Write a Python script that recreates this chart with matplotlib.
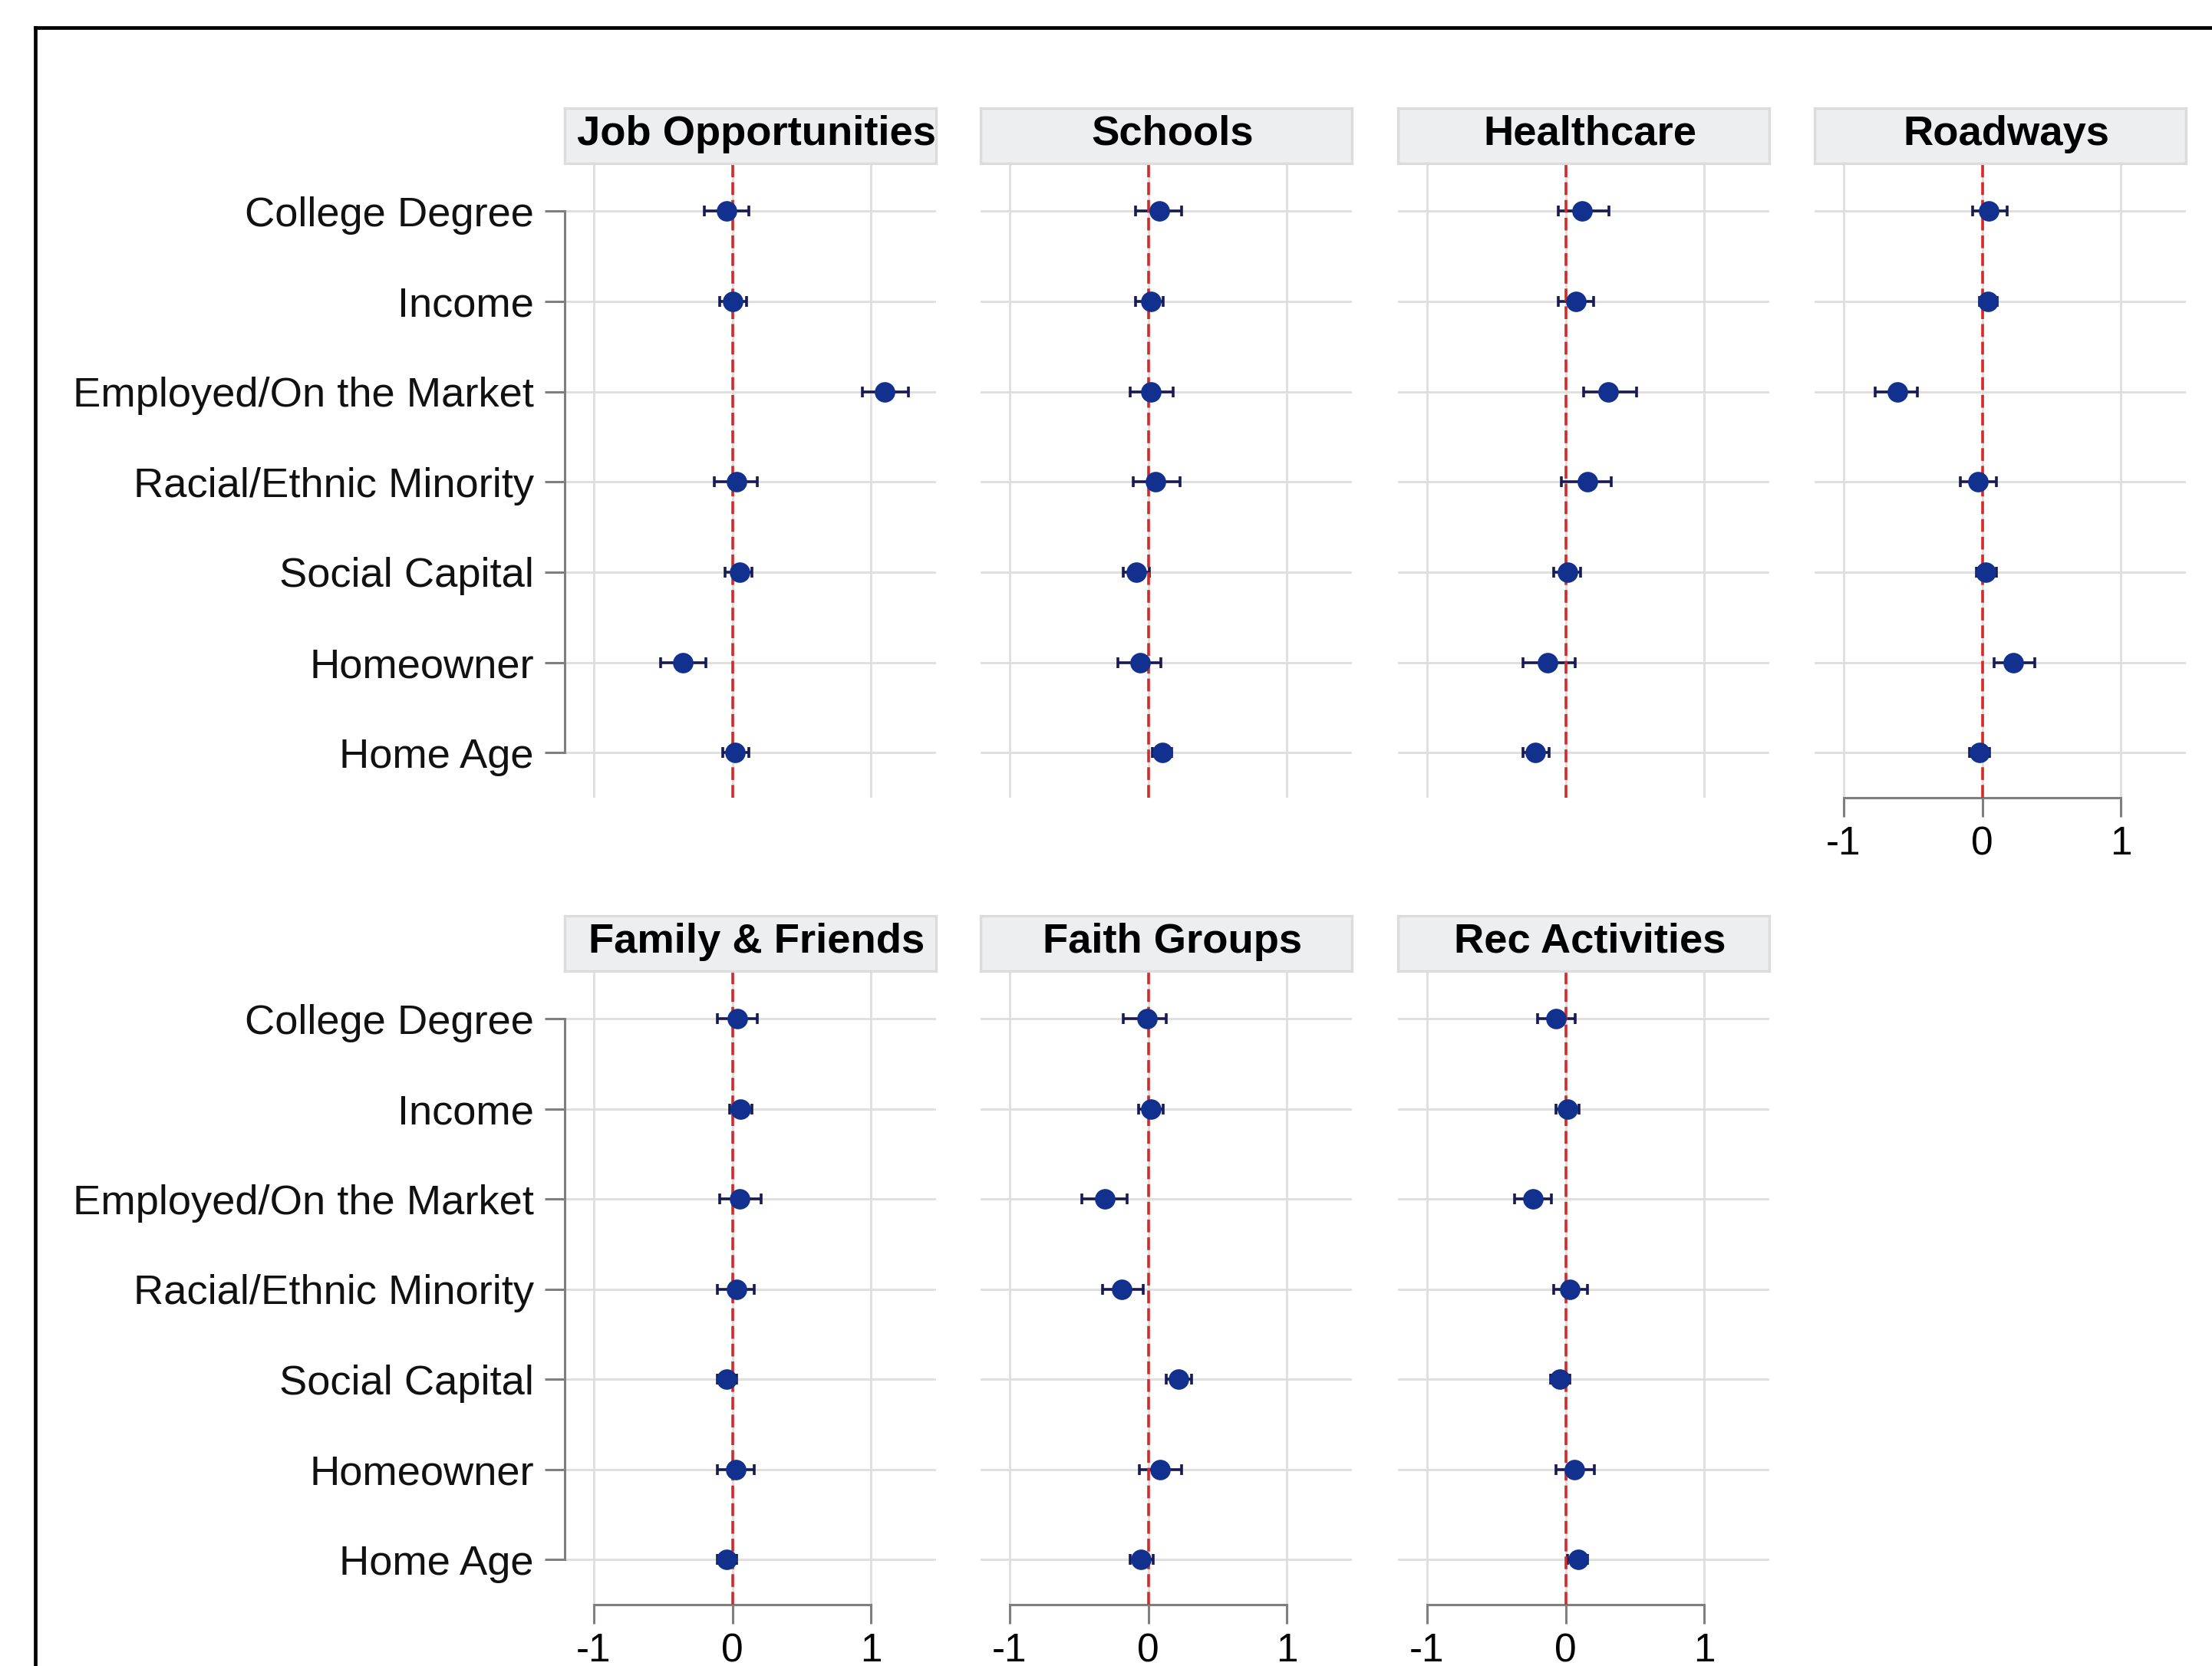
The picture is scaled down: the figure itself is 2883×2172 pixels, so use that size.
import numpy as np
import matplotlib
matplotlib.use("Agg")
import matplotlib.pyplot as plt
from matplotlib.lines import Line2D

plt.rcParams['font.family'] = ['Liberation Sans', 'DejaVu Sans']

# Predictors (top to bottom) and outcome panels
categories = ["College Degree", "Income", "Employed/On the Market",
              "Racial/Ethnic Minority", "Social Capital", "Homeowner", "Home Age"]
panels = ["Job Opportunities", "Schools", "Healthcare", "Roadways",
          "Family & Friends", "Faith Groups", "Rec Activities"]

# Point estimates with lower / upper confidence bounds
job_est = [-0.04, 0.00, 1.10, 0.03, 0.05, -0.36, 0.02]
job_lo = [-0.20, -0.09, 0.94, -0.13, -0.05, -0.52, -0.07]
job_hi = [0.12, 0.10, 1.27, 0.18, 0.14, -0.19, 0.12]

schools_est = [0.08, 0.02, 0.02, 0.05, -0.085, -0.06, 0.10]
schools_lo = [-0.09, -0.09, -0.13, -0.11, -0.18, -0.22, 0.03]
schools_hi = [0.24, 0.11, 0.18, 0.23, 0.01, 0.09, 0.17]

health_est = [0.12, 0.075, 0.305, 0.16, 0.016, -0.13, -0.22]
health_lo = [-0.05, -0.05, 0.13, -0.03, -0.085, -0.31, -0.31]
health_hi = [0.31, 0.20, 0.51, 0.33, 0.11, 0.07, -0.12]

road_est = [0.047, 0.043, -0.61, -0.03, 0.024, 0.226, -0.02]
road_lo = [-0.07, -0.02, -0.77, -0.16, -0.04, 0.085, -0.09]
road_hi = [0.18, 0.11, -0.47, 0.10, 0.10, 0.38, 0.055]

family_est = [0.034, 0.06, 0.055, 0.03, -0.043, 0.024, -0.043]
family_lo = [-0.11, -0.02, -0.09, -0.11, -0.11, -0.11, -0.11]
family_hi = [0.18, 0.14, 0.21, 0.16, 0.03, 0.16, 0.03]

faith_est = [-0.01, 0.02, -0.315, -0.19, 0.217, 0.083, -0.05]
faith_lo = [-0.18, -0.07, -0.48, -0.33, 0.13, -0.065, -0.13]
faith_hi = [0.13, 0.11, -0.15, -0.035, 0.31, 0.24, 0.035]

rec_est = [-0.07, 0.016, -0.236, 0.033, -0.04, 0.063, 0.09]
rec_lo = [-0.20, -0.07, -0.37, -0.085, -0.11, -0.07, 0.016]
rec_hi = [0.07, 0.095, -0.10, 0.16, 0.03, 0.21, 0.16]

x_ticks = [-1, 0, 1]
x_tick_labels = ["-1", "0", "1"]

series = [
    (job_est, job_lo, job_hi),
    (schools_est, schools_lo, schools_hi),
    (health_est, health_lo, health_hi),
    (road_est, road_lo, road_hi),
    (family_est, family_lo, family_hi),
    (faith_est, faith_lo, faith_hi),
    (rec_est, rec_lo, rec_hi),
]

W, H = 2883, 2172
DPI = 200
fig = plt.figure(figsize=(W / DPI, H / DPI), dpi=DPI)

# Panel geometry in pixels
col_left = [736, 1278, 1822, 2365]
panel_w = 484
row_top = [214, 1267]
row_bottom = [1040, 2092]
strip_h = 72
strip_gap = 1

grid_col = "#dedede"
axis_col = "#7f7f7f"
point_col = "#12308e"
bar_col = "#171a55"
ref_col = "#d42a2a"

# row, col for each panel
layout = [(0, 0), (0, 1), (0, 2), (0, 3), (1, 0), (1, 1), (1, 2)]
# panels that carry an x axis
has_xaxis = {3, 4, 5, 6}

yy = np.arange(1, len(categories) + 1)

for i, (name, (est, lo, hi)) in enumerate(zip(panels, series)):
    r, c = layout[i]
    l = col_left[c] / W
    b = 1 - row_bottom[r] / H
    h = (row_bottom[r] - row_top[r]) / H
    w = panel_w / W
    ax = fig.add_axes([l, b, w, h])
    ax.set_xlim(-1.21, 1.47)
    ax.set_ylim(7.5, 0.48)
    ax.set_facecolor("white")

    # grid
    for y in yy:
        ax.axhline(y, color=grid_col, lw=1.0, zorder=0)
    for x in x_ticks:
        ax.axvline(x, color=grid_col, lw=1.0, zorder=0)

    est = np.asarray(est)
    lo = np.asarray(lo)
    hi = np.asarray(hi)
    ax.errorbar(est, yy, xerr=[est - lo, hi - est], fmt="none",
                ecolor=bar_col, elinewidth=1.3, capsize=2.4, capthick=1.3,
                zorder=2)
    ax.axvline(0, color=ref_col, lw=1.3, ls=(0, (4.6, 1.8)), zorder=3)
    ax.plot(est, yy, "o", ms=8.6, color=point_col, mec=point_col, zorder=4)

    for s in ax.spines.values():
        s.set_visible(False)

    ax.set_xticks(x_ticks)
    ax.set_yticks(yy)
    if i in has_xaxis:
        ax.spines["bottom"].set_visible(True)
        ax.spines["bottom"].set_color(axis_col)
        ax.spines["bottom"].set_linewidth(1.1)
        ax.spines["bottom"].set_bounds(-1, 1)
        ax.set_xticklabels(x_tick_labels, fontsize=18.5, color="black")
        ax.tick_params(axis="x", length=9, width=1.1, color=axis_col, pad=4)
    else:
        ax.tick_params(axis="x", length=0, labelbottom=False)

    if c == 0:
        ax.spines["left"].set_visible(True)
        ax.spines["left"].set_color(axis_col)
        ax.spines["left"].set_linewidth(1.1)
        ax.spines["left"].set_bounds(1, 7)
        ax.set_yticklabels(categories, fontsize=19.6, color="#111111")
        ax.tick_params(axis="y", length=9.4, width=1.1, color=axis_col, pad=5)
    else:
        ax.tick_params(axis="y", length=0, labelleft=False)

    # facet strip
    sax = fig.add_axes([l, 1 - (row_top[r] - strip_gap) / H, w, strip_h / H])
    sax.set_facecolor("#eceef0")
    sax.set_xticks([])
    sax.set_yticks([])
    for s in sax.spines.values():
        s.set_color("#dcdcdc")
        s.set_linewidth(1.2)
    sax.text(0.517, 0.53, name, ha="center", va="center", fontsize=19.6,
             fontweight="bold", color="black", transform=sax.transAxes)

# outer frame (left and top edges)
fx = 46 / W
fy = 1 - 36 / H
fig.add_artist(Line2D([fx, fx], [0, fy], transform=fig.transFigure,
                      color="black", lw=1.7, solid_capstyle="projecting"))
fig.add_artist(Line2D([fx, 1], [fy, fy], transform=fig.transFigure,
                      color="black", lw=1.7, solid_capstyle="projecting"))

fig.savefig("out.png", dpi=DPI, facecolor="white")
